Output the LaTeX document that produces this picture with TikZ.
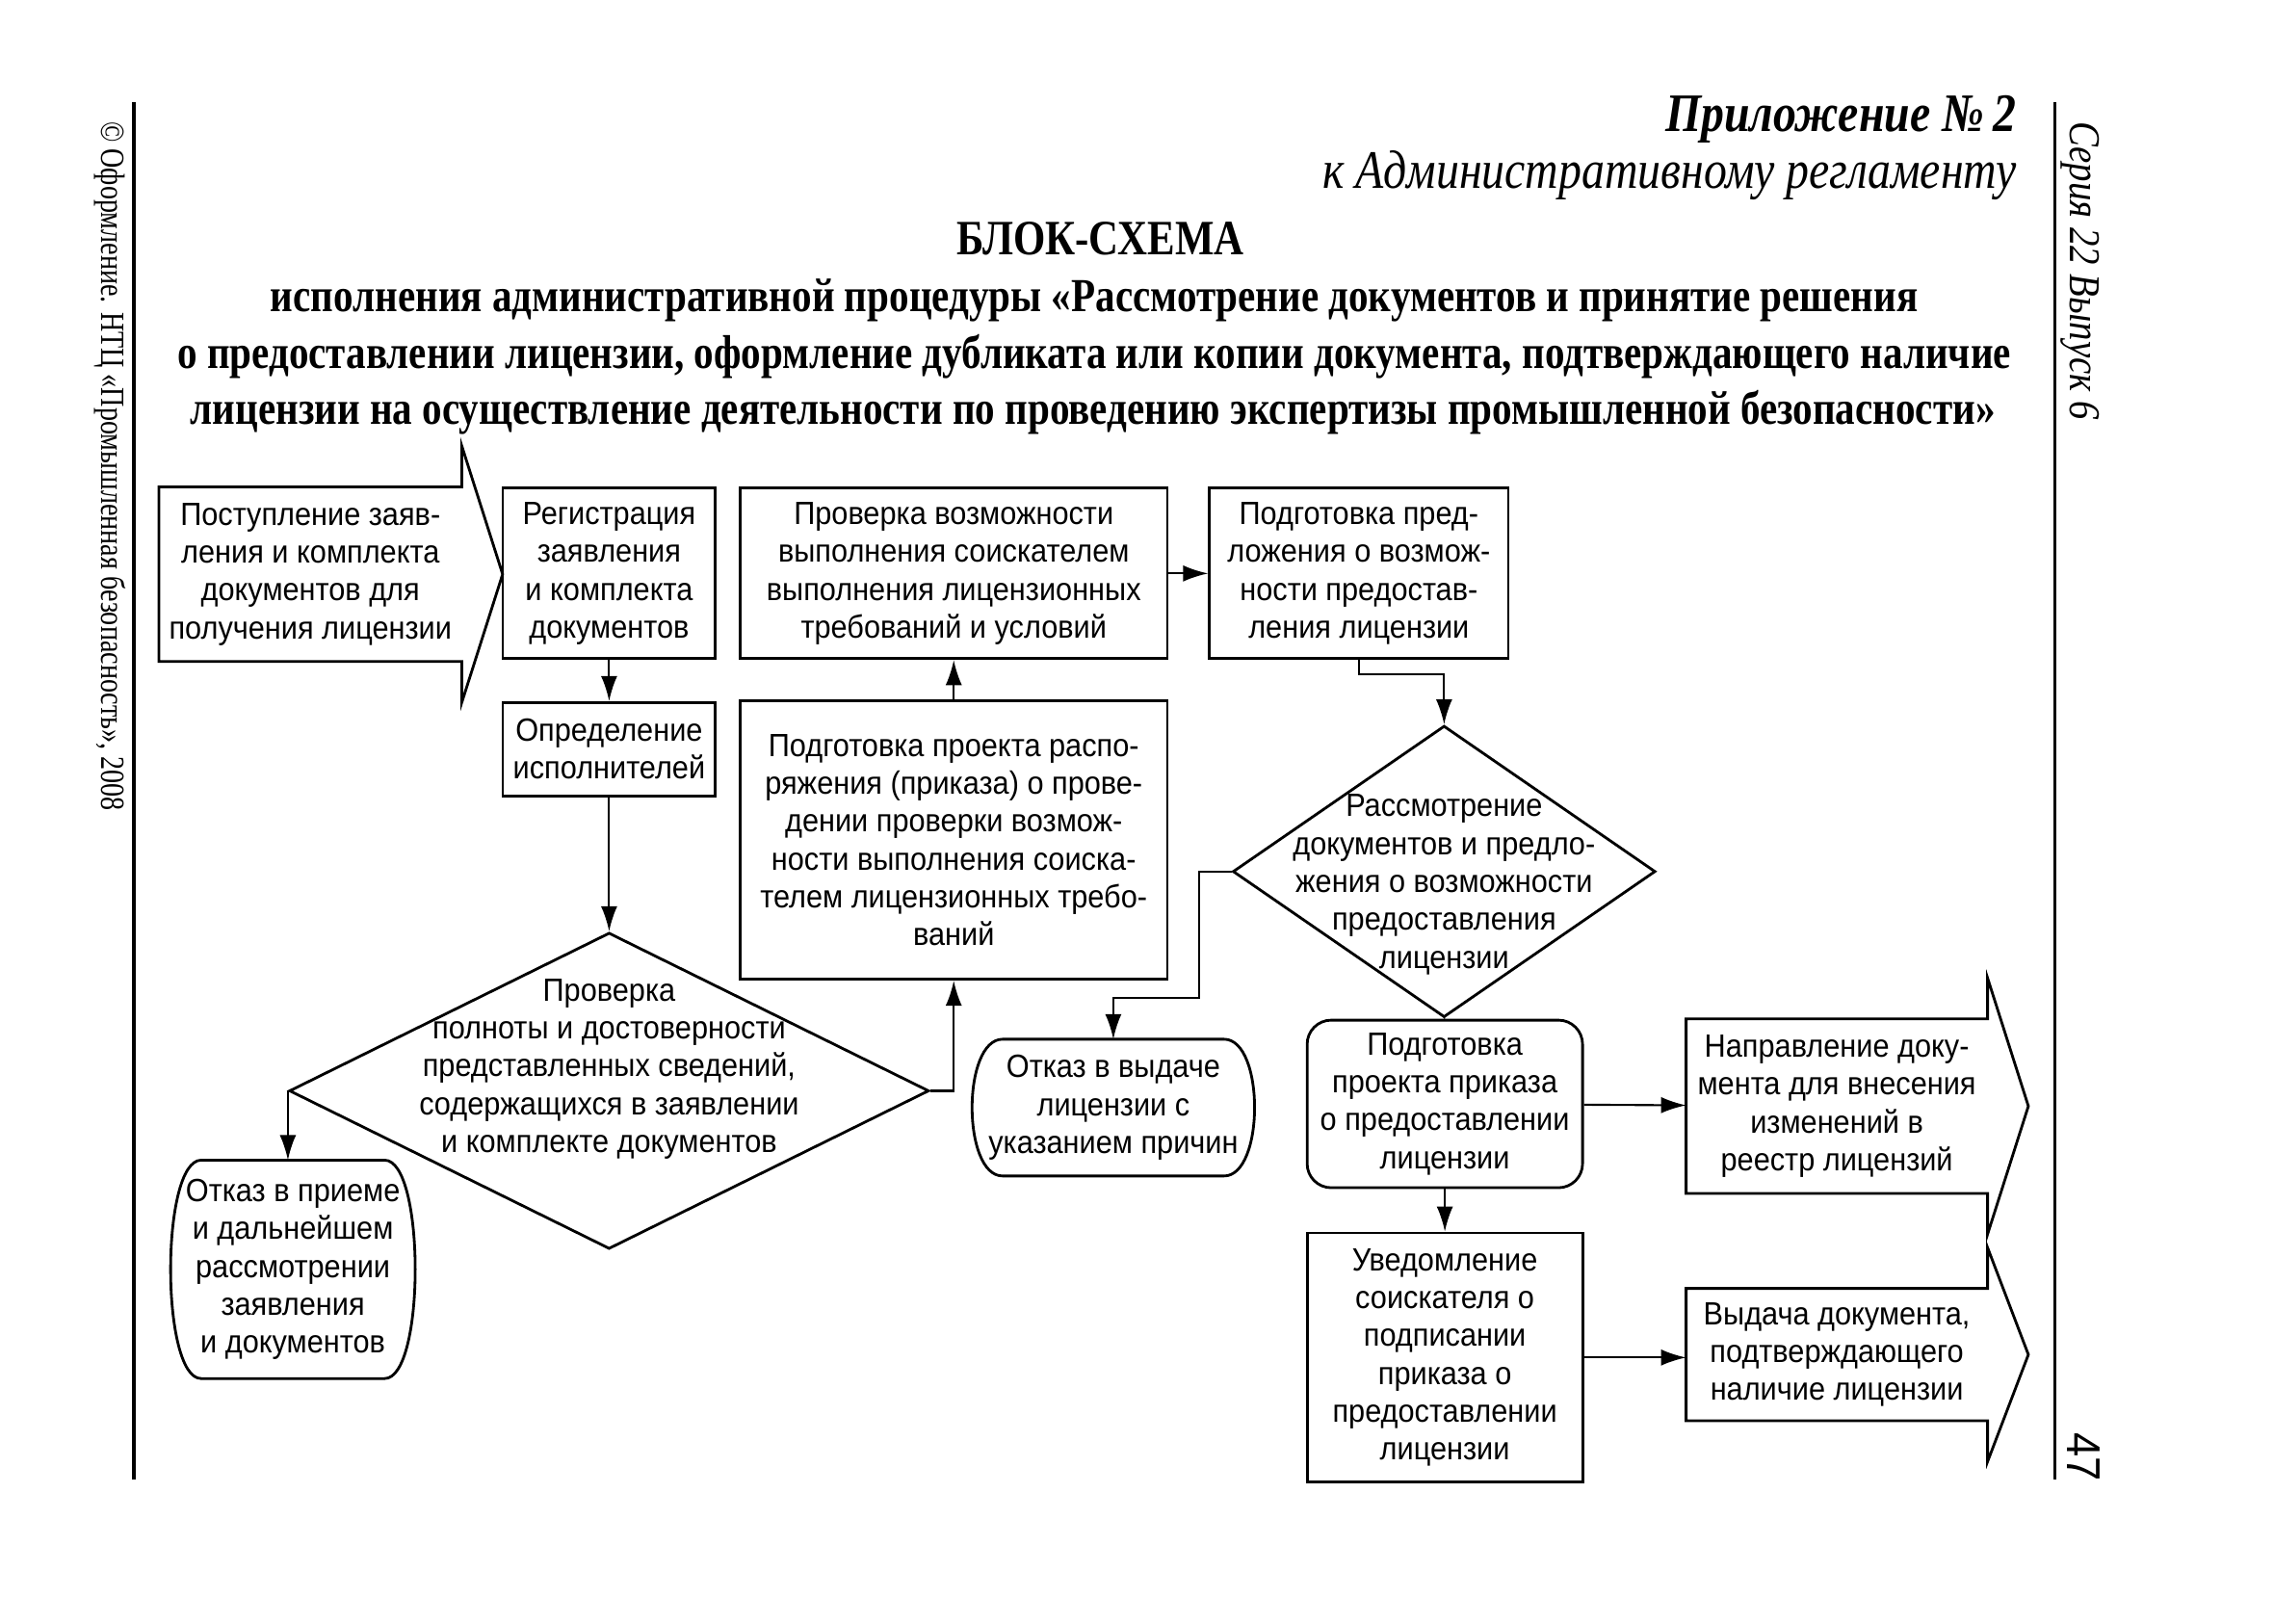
\documentclass[tikz,border=0pt]{standalone}
\usepackage{fontspec}
\setmainfont{Liberation Sans}[FakeStretch=0.92]
\newfontfamily\headfont{Liberation Serif}[FakeStretch=0.85]
\newfontfamily\titlefont{Liberation Serif}[FakeStretch=0.835]
\newfontfamily\sidefont{Liberation Serif}[FakeStretch=0.8]
\usetikzlibrary{arrows.meta,shapes.geometric,calc}
\tikzset{
>={Latex[width=1.7mm,length=2.6mm]},
	box/.style={
		rectangle,
		sharp corners,
		draw=black, thick,
		inner sep=-5mm,
		align=center,
		font=\fontsize{9.5}{11.2}\selectfont},
	rbox/.style={box, rounded corners=2.5mm},
	flat/.style={box, draw=none},
	diam/.style={
		diamond,
		draw=black, thick,
		inner sep=0pt},
	lbl/.style={align=center, inner sep=0pt, font=\fontsize{9.5}{11.2}\selectfont},
	wh/.style 2 args={minimum width=#1*0.1513mm, minimum height=#2*0.1513mm}
}

\begin{document}
\begin{tikzpicture}[x=0.1513mm, y=-0.1513mm, semithick]
\useasboundingbox (0,0) rectangle (1560.5,1114.3);

% page frame and margins
\draw[line width=1pt] (92,70) -- (92,1015);
\draw[line width=1pt] (1410,70) -- (1410,1015);
\node[rotate=-90, anchor=base west, font=\sidefont\fontsize{10}{12}\selectfont] (copy) at (70,75) {© Оформление. НТЦ «Промышленная безопасность», 2008};
\node[rotate=-90, anchor=base west, font=\headfont\itshape\fontsize{13}{15}\selectfont] (series) at (1421,75) {Серия 22 Выпуск 6};
\node[rotate=-90, font=\fontsize{14}{16}\selectfont] (page) at (1430,1000) {47};

% heading
\node[anchor=base east, font=\headfont\bfseries\itshape\fontsize{16}{18}\selectfont] (app) at (1392,90) {Приложение №\,2};
\node[anchor=base east, font=\headfont\itshape\fontsize{16}{18}\selectfont] (reglam) at (1392,129) {к Административному регламенту};
\node[anchor=base, font=\titlefont\bfseries\fontsize{14.6}{17}\selectfont] (title) at (755,175) {БЛОК-СХЕМА};
\node[anchor=base, font=\titlefont\bfseries\fontsize{14}{16}\selectfont] (sub1) at (751,214) {исполнения административной процедуры «Рассмотрение документов и принятие решения};
\node[anchor=base, font=\titlefont\bfseries\fontsize{14}{16}\selectfont] (sub2) at (751,253) {о предоставлении лицензии, оформление дубликата или копии документа, подтверждающего наличие};
\node[anchor=base, font=\titlefont\bfseries\fontsize{14}{16}\selectfont] (sub3) at (750,291) {лицензии на осуществление деятельности по проведению экспертизы промышленной безопасности»};

% blocks
\node[flat, wh={206}{118}] (inarr) at (213,394) {Поступление заяв-\\ления и комплекта\\документов для\\получения лицензии};
\node[box, wh={146}{117}] (reg) at (418,393.5) {Регистрация\\заявления\\и комплекта\\документов};
\node[box, wh={146}{64}] (exec) at (418,514) {Определение\\исполнителей};
\node[box, wh={293}{117}] (check) at (654.5,393.5) {Проверка возможности\\выполнения соискателем\\выполнения лицензионных\\требований и условий};
\node[box, wh={293}{191}] (order) at (654.5,576.5) {Подготовка проекта распо-\\ряжения (приказа) о прове-\\дении проверки возмож-\\ности выполнения соиска-\\телем лицензионных требо-\\ваний};
\node[box, wh={205}{117}] (prop) at (932.5,393.5) {Подготовка пред-\\ложения о возмож-\\ности предостав-\\ления лицензии};
\node[diam, wh={290}{200}, label={[lbl, yshift=-1.36mm]center:{Рассмотрение\\документов и предло-\\жения о возможности\\предоставления\\лицензии}}] (revB) at (991,598) {};
\node[diam, wh={439}{217}, label={[lbl, yshift=2.27mm]center:{Проверка\\полноты и достоверности\\представленных сведений,\\содержащихся в заявлении\\и комплекте документов}}] (verA) at (418,748.5) {};
\node[flat, wh={124}{148}] (rejA) at (201,871) {Отказ в приеме\\и дальнейшем\\рассмотрении\\заявления\\и документов};
\node[flat, wh={150}{92}] (rejB) at (764,760) {Отказ в выдаче\\лицензии с\\указанием причин};
\node[rbox, wh={189}{115}] (draft) at (991.5,757.5) {Подготовка\\проекта приказа\\о предоставлении\\лицензии};
\node[box, wh={189}{171}] (notify) at (991.5,931.5) {Уведомление\\соискателя о\\подписании\\приказа о\\предоставлении\\лицензии};
\node[flat, wh={205}{118}] (send) at (1260.5,759) {Направление доку-\\мента для внесения\\изменений в\\реестр лицензий};
\node[flat, wh={205}{89}] (issue) at (1260.5,929.5) {Выдача документа,\\подтверждающего\\наличие лицензии};

% arrow outlines
\foreach \n in {inarr,send,issue}
	\draw[thick] (\n.north west) -- (\n.north east) -- ++(0,-28) -- ($(\n.east)+(28,0)$) -- ($(\n.south east)+(0,28)$) -- (\n.south east) -- (\n.south west) -- cycle;
% refusal outlines
\foreach \n in {rejA,rejB}
	\draw[thick] (\n.north west) -- (\n.north east) .. controls +(28,0) and +(28,0) .. (\n.south east) -- (\n.south west) .. controls +(-28,0) and +(-28,0) .. (\n.north west);

% connectors
\draw[->] (reg) -- (exec);
\draw[->] (exec) -- (verA);
\draw[->] (verA.east) -| (order.south);
\draw[->] (order) -- (check);
\draw[->] (check) -- (prop);
\draw[->] (prop.south) -- ++(0,10) -| (revB.north);
\draw[->] (revB.west) -- ++(-22,0) -- ++(0,87) -| (rejB.north);
\draw (revB.south) -- (draft.north);
\draw[->] (verA.west) -- (verA.west |- rejA.north);
\draw[->] (draft) -- (send);
\draw[->] (draft) -- (notify);
\draw[->] (notify.east) -- (notify.east -| issue.west);
\end{tikzpicture}
\end{document}
